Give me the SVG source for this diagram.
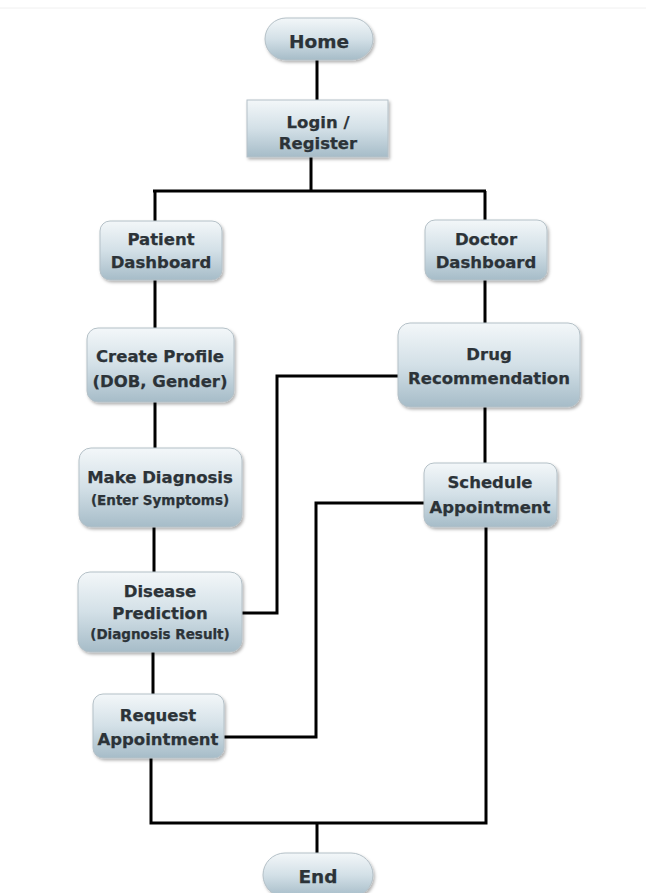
<svg xmlns="http://www.w3.org/2000/svg" width="646" height="893" viewBox="0 0 646 893">
<defs>
<linearGradient id="g" x1="0" y1="0" x2="0" y2="1">
<stop offset="0" stop-color="#f3f7f9"/>
<stop offset="0.5" stop-color="#d3e0e7"/>
<stop offset="1" stop-color="#a6bcc8"/>
</linearGradient>
<filter id="sh" x="-10%" y="-10%" width="125%" height="135%">
<feDropShadow dx="1.5" dy="2" stdDeviation="1.5" flood-color="#000" flood-opacity="0.3"/>
</filter>
<style>
.n{fill:url(#g);stroke:#b4c0c7;stroke-width:1;filter:url(#sh)}
.t{font-family:"DejaVu Sans",Verdana,sans-serif;font-weight:bold;font-size:16.5px;fill:#2c3338;text-anchor:middle;stroke:#2c3338;stroke-width:0.25}
.s{font-size:13.5px}
.b{font-size:18.5px}
.c{fill:none;stroke:#000;stroke-width:3;stroke-linejoin:miter}
</style>
</defs>
<rect width="646" height="893" fill="#fff"/>
<line x1="0" y1="8" x2="646" y2="8" stroke="#f0f0f0" stroke-width="1"/>
<g id="connectors">
<path class="c" d="M317 60V100"/>
<path class="c" d="M311 157V191M153 191H486M155 191V221M485 191V220"/>
<path class="c" d="M155 280V328M155 402V448M154 527V572M153 652V694"/>
<path class="c" d="M485 280V323M485 407V463"/>
<path class="c" d="M398 376H277V613H242"/>
<path class="c" d="M424 503H316V737H224"/>
<path class="c" d="M151 758V823H486V527M317 823V853"/>
</g>
<g id="home"><rect class="n" x="265" y="18" width="108" height="42" rx="21"/><text class="t b" x="319" y="48">Home</text></g>
<g id="login"><rect class="n" x="247" y="100" width="141" height="57" rx="0"/><text class="t" x="318" y="128">Login /</text><text class="t" x="318" y="149">Register</text></g>
<g id="patient"><rect class="n" x="100" y="221" width="122" height="59" rx="10"/><text class="t" x="161" y="245">Patient</text><text class="t" x="161" y="268">Dashboard</text></g>
<g id="doctor"><rect class="n" x="425" y="220" width="122" height="60" rx="10"/><text class="t" x="486" y="245">Doctor</text><text class="t" x="486" y="268">Dashboard</text></g>
<g id="profile"><rect class="n" x="87" y="328" width="147" height="74" rx="11"/><text class="t" x="160" y="362">Create Profile</text><text class="t" x="160" y="387">(DOB, Gender)</text></g>
<g id="drug"><rect class="n" x="398" y="323" width="182" height="84" rx="12"/><text class="t" x="489" y="360">Drug</text><text class="t" x="489" y="384">Recommendation</text></g>
<g id="diagnosis"><rect class="n" x="79" y="448" width="163" height="79" rx="12"/><text class="t" x="160" y="483">Make Diagnosis</text><text class="t s" x="160" y="505">(Enter Symptoms)</text></g>
<g id="schedule"><rect class="n" x="424" y="463" width="133" height="64" rx="10"/><text class="t" x="490" y="488">Schedule</text><text class="t" x="490" y="513">Appointment</text></g>
<g id="prediction"><rect class="n" x="78" y="572" width="164" height="80" rx="12"/><text class="t" x="160" y="597">Disease</text><text class="t" x="160" y="619">Prediction</text><text class="t s" x="160" y="639">(Diagnosis Result)</text></g>
<g id="request"><rect class="n" x="93" y="694" width="131" height="64" rx="10"/><text class="t" x="158" y="721">Request</text><text class="t" x="158" y="745">Appointment</text></g>
<g id="end"><rect class="n" x="263" y="853" width="110" height="44" rx="22"/><text class="t b" x="318" y="883">End</text></g>
</svg>
